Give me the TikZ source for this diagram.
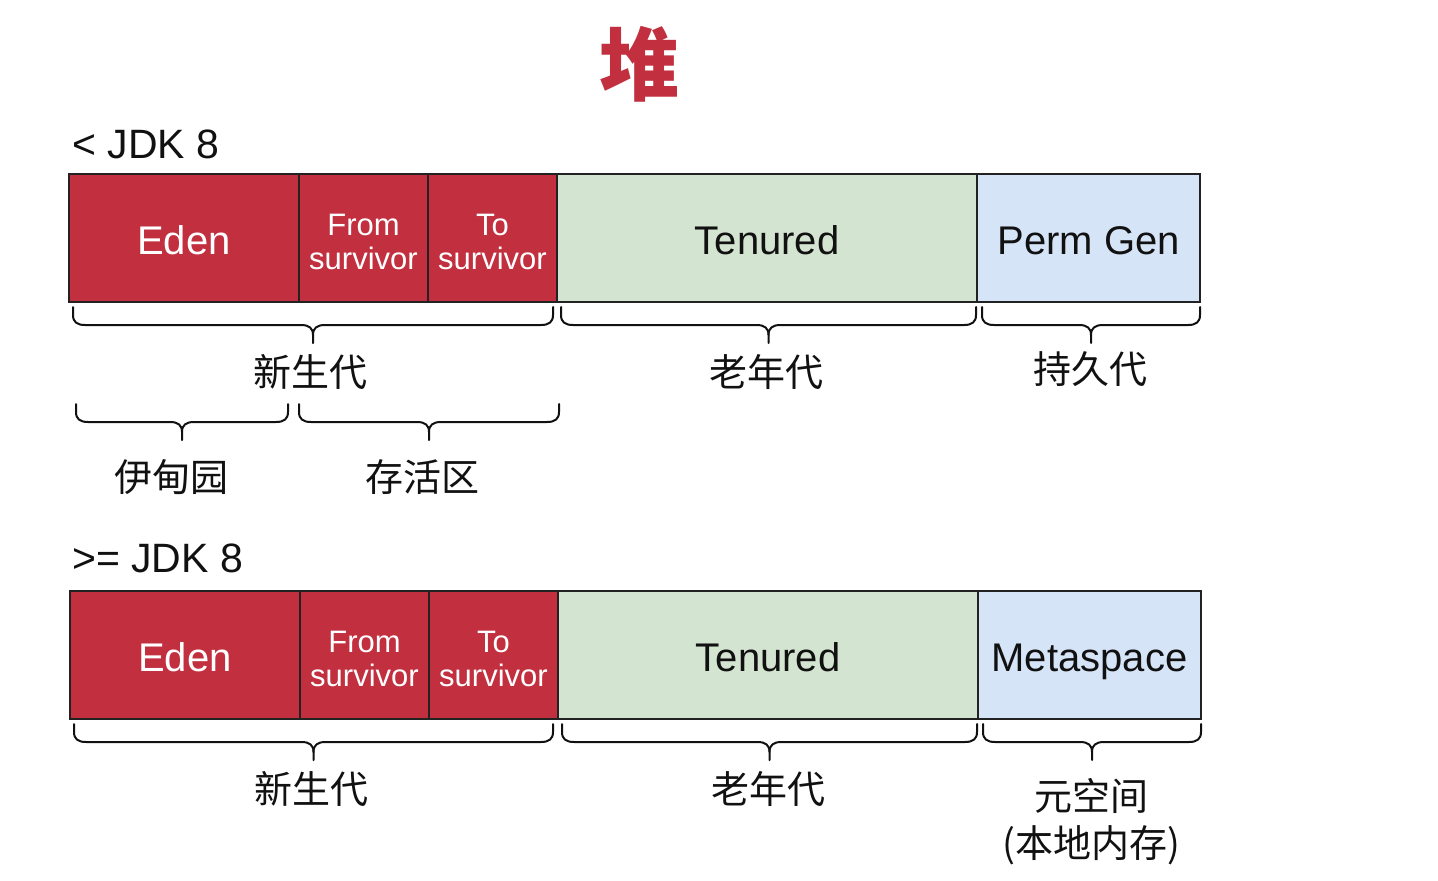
\documentclass[tikz,border=0pt]{standalone}
\usepackage{fontspec}
\setmainfont{Liberation Sans}
\newfontfamily\cjk{Noto Sans CJK SC}
\definecolor{heapred}{RGB}{194,48,64}
\definecolor{oldgreen}{RGB}{211,228,208}
\definecolor{permblue}{RGB}{214,228,248}
\definecolor{edge}{RGB}{34,34,34}
\definecolor{ink}{RGB}{17,17,17}
\newcommand{\curly}[3]{%
  \pgfmathsetmacro{\xm}{(#1+#2)/2}%
  \draw[bracestyle] (#1,#3) -- (#1,#3+8) .. controls (#1,#3+15) and (#1+4,#3+18) .. (#1+12,#3+18)
    -- (\xm-12,#3+18) .. controls (\xm-4,#3+18) and (\xm,#3+21) .. (\xm,#3+28) -- (\xm,#3+36);
  \draw[bracestyle] (\xm,#3+28) .. controls (\xm,#3+21) and (\xm+4,#3+18) .. (\xm+12,#3+18)
    -- (#2-12,#3+18) .. controls (#2-4,#3+18) and (#2,#3+15) .. (#2,#3+8) -- (#2,#3);
}
\tikzset{
  box/.style={draw=edge, line width=2pt, inner sep=0pt, minimum height=128pt},
  young/.style={box, fill=heapred},
  old/.style={box, fill=oldgreen},
  perm/.style={box, fill=permblue},
  bigtxt/.style={inner sep=0pt, text height=28.6pt, text depth=0pt, yshift=-2pt, font=\fontsize{40}{44}\selectfont},
  smalltxt/.style={inner sep=0pt, align=center, yshift=-4pt, text=white, font=\fontsize{31}{34}\selectfont},
  bracestyle/.style={draw=ink, line width=2pt, line cap=round, line join=round},
  cn/.style={text=ink, font=\cjk\fontsize{38}{46}\selectfont, align=center, inner sep=0pt},
  jdk/.style={text=ink, font=\fontsize{41}{44}\selectfont, anchor=west, inner sep=0pt},
}
\begin{document}
\begin{tikzpicture}[x=1pt,y=-1pt]
\useasboundingbox[fill=white] (0,0) rectangle (1438,881);
% title
\node[text=heapred, font=\cjk\bfseries\fontsize{80}{90}\selectfont, inner sep=0pt] (title) at (639,64) {堆};
% < JDK 8
\node[jdk] (jdk7) at (72,144) {< JDK 8};
\node[young, minimum width=230pt] (eden1) at (184,238) {};
\node[young, minimum width=129pt] (from1) at (363.5,238) {};
\node[young, minimum width=129pt] (to1) at (492.5,238) {};
\node[old, minimum width=420pt] (ten1) at (767,238) {};
\node[perm, minimum width=223pt] (perm1) at (1088.5,238) {};
\node[bigtxt, text=white] (eden1t) at (eden1) {Eden};
\node[smalltxt] (from1t) at (from1) {From\\survivor};
\node[smalltxt] (to1t) at (to1) {To\\survivor};
\node[bigtxt, text=ink] (ten1t) at (ten1) {Tenured};
\node[bigtxt, text=ink] (perm1t) at (perm1) {Perm Gen};
\curly{73}{553}{307}
\curly{561}{976}{307}
\curly{982}{1200}{307}
\node[cn] (young1) at (310,372) {新生代};
\node[cn] (old1) at (766,372) {老年代};
\node[cn] (permlbl) at (1090,369) {持久代};
\curly{76}{288}{404}
\curly{299}{559}{404}
\node[cn] (edenlbl) at (171,477) {伊甸园};
\node[cn] (survlbl) at (422,477) {存活区};
% >= JDK 8
\node[jdk] (jdk8) at (72,558) {>= JDK 8};
\node[young, minimum width=230pt] (eden2) at (185,655) {};
\node[young, minimum width=129pt] (from2) at (364.5,655) {};
\node[young, minimum width=129pt] (to2) at (493.5,655) {};
\node[old, minimum width=420pt] (ten2) at (768,655) {};
\node[perm, minimum width=223pt] (meta2) at (1089.5,655) {};
\node[bigtxt, text=white] (eden2t) at (eden2) {Eden};
\node[smalltxt] (from2t) at (from2) {From\\survivor};
\node[smalltxt] (to2t) at (to2) {To\\survivor};
\node[bigtxt, text=ink] (ten2t) at (ten2) {Tenured};
\node[bigtxt, text=ink] (meta2t) at (meta2) {Metaspace};
\curly{74}{553}{724}
\curly{562}{977}{724}
\curly{983}{1201}{724}
\node[cn] (young2) at (311,789) {新生代};
\node[cn] (old2) at (768,789) {老年代};
\node[cn, font=\cjk\fontsize{38}{47}\selectfont] (metalbl) at (1091,822) {元空间\\(本地内存)};
\end{tikzpicture}
\end{document}
